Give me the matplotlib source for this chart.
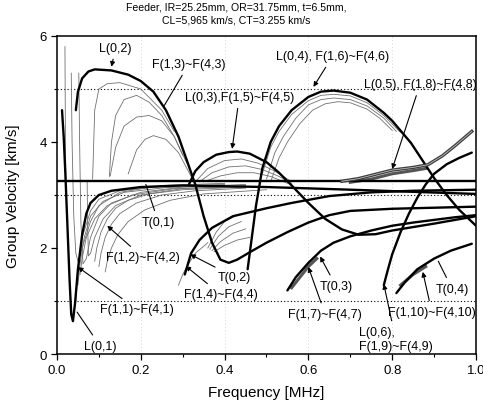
import matplotlib
matplotlib.use("Agg")
import matplotlib.pyplot as plt
from matplotlib import font_manager

plt.rcParams['font.family'] = ['Liberation Sans', 'DejaVu Sans']

# ---------------- data ----------------
title_text = "Feeder, IR=25.25mm, OR=31.75mm, t=6.5mm,\nCL=5,965 km/s, CT=3.255 km/s"
x_ticks = [0.0, 0.2, 0.4, 0.6, 0.8, 1.0]
x_tick_labels = ["0.0", "0.2", "0.4", "0.6", "0.8", "1.0"]
y_ticks = [0, 2, 4, 6]
ref_levels = [1, 3, 5]

# thick main modes
t01_x = [0.0, 1.0]
t01_y = [3.255, 3.255]

l01_x = [0.012, 0.016, 0.02, 0.025, 0.03, 0.034, 0.038, 0.043, 0.05, 0.06, 0.07, 0.08, 0.1, 0.13, 0.2, 0.3, 0.5, 0.7, 1.0]
l01_y = [4.6, 4.1, 3.4, 2.4, 1.4, 0.75, 0.62, 0.95, 1.6, 2.25, 2.65, 2.85, 3.0, 3.08, 3.15, 3.18, 3.15, 3.1, 3.02]

l02_x = [0.045, 0.05, 0.06, 0.075, 0.09, 0.13, 0.17, 0.2, 0.23, 0.26, 0.29, 0.31, 0.33, 0.35, 0.37, 0.39, 0.41, 0.43, 0.46, 0.5, 0.55, 0.6, 0.65, 0.7, 0.8, 0.9, 1.0]
l02_y = [4.6, 4.95, 5.2, 5.33, 5.37, 5.35, 5.27, 5.15, 4.95, 4.6, 4.1, 3.65, 3.2, 2.6, 2.1, 1.78, 1.72, 1.78, 1.92, 2.1, 2.3, 2.48, 2.62, 2.7, 2.74, 2.76, 2.78]

l03_x = [0.315, 0.33, 0.35, 0.38, 0.41, 0.43, 0.46, 0.5, 0.53, 0.56, 0.6, 0.64, 0.68, 0.72, 0.76, 0.8, 0.9, 1.0]
l03_y = [3.2, 3.45, 3.62, 3.76, 3.81, 3.82, 3.78, 3.62, 3.42, 3.18, 2.85, 2.55, 2.35, 2.25, 2.26, 2.33, 2.46, 2.6]

l04_x = [0.455, 0.465, 0.475, 0.49, 0.51, 0.53, 0.56, 0.6, 0.63, 0.66, 0.7, 0.74, 0.78, 0.8, 0.845, 0.87, 0.9, 0.93, 0.96, 1.0]
l04_y = [1.6, 2.2, 2.8, 3.5, 4.0, 4.3, 4.6, 4.85, 4.95, 4.97, 4.93, 4.8, 4.55, 4.4, 3.98, 3.68, 3.32, 3.0, 2.72, 2.42]

l05_x = [0.68, 0.72, 0.76, 0.8, 0.85, 0.885, 0.92, 0.95, 0.99]
l05_y = [3.26, 3.31, 3.39, 3.47, 3.52, 3.57, 3.74, 3.93, 4.2]

l06_x = [0.78, 0.79, 0.8, 0.82, 0.84, 0.86, 0.88, 0.9, 0.93, 0.96, 0.99]
l06_y = [1.3, 1.6, 1.88, 2.3, 2.65, 2.95, 3.2, 3.4, 3.58, 3.7, 3.8]

t02_x = [0.305, 0.32, 0.34, 0.37, 0.42, 0.5, 0.56, 0.65, 0.75, 0.85, 1.0]
t02_y = [1.5, 1.9, 2.15, 2.38, 2.6, 2.75, 2.85, 2.98, 3.05, 3.08, 3.1]

t03_x = [0.55, 0.57, 0.6, 0.63, 0.66, 0.7, 0.75, 0.8, 0.85, 0.9, 0.95, 1.0]
t03_y = [1.2, 1.45, 1.72, 1.95, 2.1, 2.22, 2.33, 2.42, 2.48, 2.53, 2.58, 2.62]

t04_x = [0.81, 0.83, 0.86, 0.9, 0.94, 0.99]
t04_y = [1.15, 1.35, 1.6, 1.8, 1.95, 2.08]

# thin flexural families (x list, y list) pairs
fam1_x = [[0.045, 0.05, 0.06, 0.08, 0.1, 0.15, 0.25, 0.4],
          [0.05, 0.055, 0.065, 0.08, 0.11, 0.16, 0.26, 0.4],
          [0.055, 0.06, 0.07, 0.09, 0.12, 0.18, 0.28, 0.45]]
fam1_y = [[1.0, 1.55, 2.2, 2.7, 2.92, 3.08, 3.16, 3.2],
          [1.3, 1.7, 2.2, 2.6, 2.88, 3.05, 3.14, 3.18],
          [1.5, 1.8, 2.2, 2.55, 2.8, 3.0, 3.12, 3.16]]

fam2_x = [[0.034, 0.036, 0.04, 0.045, 0.05, 0.06, 0.08, 0.1, 0.15, 0.25, 0.4],
          [0.052, 0.054, 0.057, 0.062, 0.07, 0.08, 0.1, 0.13, 0.2, 0.3, 0.45],
          [0.072, 0.073, 0.075, 0.08, 0.09, 0.11, 0.14, 0.2, 0.3, 0.45],
          [0.09, 0.095, 0.105, 0.12, 0.14, 0.17, 0.22, 0.3, 0.45],
          [0.1, 0.105, 0.115, 0.13, 0.15, 0.19, 0.25, 0.33, 0.45],
          [0.115, 0.12, 0.13, 0.145, 0.17, 0.21, 0.27, 0.35, 0.5],
          [0.019, 0.0195, 0.02, 0.021]]
fam2_y = [[5.3, 4.0, 2.6, 1.9, 1.75, 2.0, 2.5, 2.8, 3.05, 3.18, 3.22],
          [5.3, 4.0, 2.5, 1.7, 1.8, 2.2, 2.6, 2.85, 3.05, 3.15, 3.2],
          [3.25, 2.5, 1.85, 1.9, 2.2, 2.55, 2.8, 3.0, 3.12, 3.18],
          [1.75, 2.0, 2.3, 2.55, 2.75, 2.9, 3.02, 3.1, 3.15],
          [1.65, 1.9, 2.2, 2.45, 2.65, 2.85, 3.0, 3.08, 3.13],
          [1.55, 1.75, 2.0, 2.25, 2.5, 2.72, 2.9, 3.02, 3.1],
          [5.8, 5.0, 4.3, 3.3]]

fam3_x = [[0.085, 0.09, 0.1, 0.12, 0.15, 0.2, 0.25, 0.28],
          [0.125, 0.13, 0.14, 0.16, 0.19, 0.22, 0.25, 0.28, 0.3],
          [0.127, 0.14, 0.16, 0.19, 0.22, 0.25, 0.28, 0.31],
          [0.17, 0.19, 0.21, 0.23, 0.26, 0.29, 0.32]]
fam3_y = [[3.3, 4.6, 5.0, 5.1, 5.12, 5.0, 4.6, 4.2],
          [3.35, 4.0, 4.5, 4.8, 4.88, 4.75, 4.5, 4.1, 3.75],
          [3.36, 3.9, 4.3, 4.47, 4.5, 4.4, 4.1, 3.6],
          [3.4, 3.85, 4.05, 4.12, 4.05, 3.8, 3.35]]

fam4_x = [[0.36, 0.38, 0.4, 0.43],
          [0.365, 0.385, 0.41, 0.44],
          [0.37, 0.39, 0.42, 0.45],
          [0.375, 0.4, 0.43, 0.46],
          [0.29, 0.3, 0.31, 0.33, 0.36]]
fam4_y = [[2.0, 2.3, 2.5, 2.62],
          [1.98, 2.22, 2.4, 2.5],
          [1.95, 2.12, 2.28, 2.36],
          [1.93, 2.05, 2.15, 2.2],
          [1.3, 1.5, 1.65, 1.9, 2.1]]

fam5_x = [[0.33, 0.36, 0.4, 0.44, 0.48, 0.52, 0.56],
          [0.34, 0.37, 0.41, 0.45, 0.49, 0.53, 0.56],
          [0.35, 0.39, 0.43, 0.47, 0.51, 0.55]]
fam5_y = [[3.25, 3.5, 3.65, 3.68, 3.6, 3.45, 3.25],
          [3.25, 3.42, 3.53, 3.55, 3.48, 3.35, 3.22],
          [3.25, 3.36, 3.42, 3.42, 3.35, 3.22]]

fam6_x = [[0.49, 0.51, 0.53, 0.56, 0.6, 0.63, 0.66, 0.7, 0.74, 0.78, 0.82],
          [0.5, 0.52, 0.54, 0.57, 0.6, 0.63, 0.66, 0.7, 0.74, 0.78, 0.81],
          [0.51, 0.53, 0.55, 0.58, 0.61, 0.64, 0.67, 0.7, 0.74, 0.77, 0.8]]
fam6_y = [[3.4, 3.9, 4.2, 4.52, 4.78, 4.88, 4.9, 4.87, 4.74, 4.5, 4.18],
          [3.3, 3.8, 4.1, 4.45, 4.7, 4.8, 4.83, 4.8, 4.68, 4.45, 4.2],
          [3.25, 3.7, 4.0, 4.35, 4.6, 4.72, 4.76, 4.74, 4.62, 4.45, 4.22]]

fam7_x = [[0.56, 0.58, 0.6, 0.62], [0.7, 0.75, 0.8, 0.85, 0.88],
          [0.82, 0.85, 0.88]]
fam7_y = [[1.25, 1.45, 1.65, 1.8], [3.24, 3.3, 3.4, 3.46, 3.5],
          [1.3, 1.5, 1.65]]

# labels: text, text pos, arrow tip, arrowstyle, ha
labels = [
    ("L(0,2)", (0.14, 5.78), (0.13, 5.42), "-|>", "center"),
    ("F(1,3)~F(4,3)", (0.227, 5.47), (0.254, 4.66), "-", "left"),
    ("L(0,3),F(1,5)~F(4,5)", (0.435, 4.85), (0.418, 3.87), "-|>", "center"),
    ("L(0,4), F(1,6)~F(4,6)", (0.658, 5.62), (0.612, 5.04), "-|>", "center"),
    ("L(0,5), F(1,8)~F(4,8)", (0.732, 5.09), (0.80, 3.49), "-|>", "left"),
    ("T(0,1)", (0.242, 2.49), (0.212, 3.2), "-", "center"),
    ("F(1,2)~F(4,2)", (0.204, 1.83), (0.12, 2.42), "-|>", "center"),
    ("F(1,1)~F(4,1)", (0.19, 0.85), (0.05, 1.64), "-|>", "center"),
    ("L(0,1)", (0.103, 0.15), (0.048, 0.79), "-", "center"),
    ("T(0,2)", (0.424, 1.45), (0.318, 1.88), "-|>", "center"),
    ("F(1,4)~F(4,4)", (0.39, 1.13), (0.307, 1.66), "-|>", "center"),
    ("T(0,3)", (0.666, 1.28), (0.628, 1.84), "-|>", "center"),
    ("F(1,7)~F(4,7)", (0.64, 0.75), (0.60, 1.64), "-|>", "center"),
    ("L(0,6),\nF(1,9)~F(4,9)", (0.72, 0.28), (0.78, 1.32), "-|>", "left"),
    ("F(1,10)~F(4,10)", (0.79, 0.79), (0.873, 1.55), "-|>", "left"),
    ("T(0,4)", (0.943, 1.23), (0.91, 1.75), "-", "center"),
]

# ---------------- figure ----------------
fig = plt.figure(figsize=(4.83, 4.06), dpi=100)
ax = fig.add_axes([0.118, 0.1256, 0.8675, 0.7833])
ax.set_xlim(0, 1.0)
ax.set_ylim(0, 6)

for xv in [0.2, 0.4, 0.6, 0.8]:
    ax.axvline(xv, color='#c8c8c8', lw=0.6, ls=(0, (1, 3)), zorder=0)
for lv in ref_levels:
    ax.axhline(lv, color='black', lw=0.8, ls=(0, (1, 2)), zorder=1)

thin_kw = dict(color='#707070', lw=0.6, zorder=2)
for fx, fy in [(fam1_x, fam1_y), (fam2_x, fam2_y), (fam3_x, fam3_y), (fam4_x, fam4_y),
               (fam5_x, fam5_y), (fam6_x, fam6_y)]:
    for xs, ys in zip(fx, fy):
        ax.plot(xs, ys, **thin_kw)
for xs, ys in zip(fam7_x, fam7_y):
    ax.plot(xs, ys, color='#555555', lw=2.2, zorder=2)

thick_kw = dict(color='black', lw=1.7, zorder=3, solid_capstyle='round')
for xs, ys in [(t01_x, t01_y), (l01_x, l01_y), (l02_x, l02_y), (l03_x, l03_y),
               (l04_x, l04_y), (l06_x, l06_y), (t02_x, t02_y),
               (t03_x, t03_y), (t04_x, t04_y)]:
    ax.plot(xs, ys, **thick_kw)
ax.plot(l05_x, l05_y, color='#404040', lw=2.4, zorder=3)
ax.plot(l05_x, l05_y, color='#d0d0d0', lw=0.5, zorder=3)

for txt, tpos, tip, style, ha in labels:
    ax.annotate(txt, xy=tip, xytext=tpos, fontsize=9, ha=ha, va='center',
                annotation_clip=False, clip_on=True,
                arrowprops=dict(arrowstyle=style, color='black', lw=0.8,
                                mutation_scale=7, shrinkA=2, shrinkB=0),
                zorder=5)

ax.set_xticks(x_ticks)
ax.set_xticklabels(x_tick_labels)
ax.set_xticks([0.1, 0.3, 0.5, 0.7, 0.9], minor=True)
ax.set_yticks(y_ticks)
ax.set_yticks([1, 3, 5], minor=True)
ax.tick_params(direction='out', length=4, width=0.9, labelsize=9.5, top=False, right=False)
ax.tick_params(which='minor', direction='out', length=2.5, width=0.8)
for s in ax.spines.values():
    s.set_linewidth(1.1)

ax.set_xlabel("Frequency [MHz]", fontsize=11, labelpad=6)
ax.set_ylabel("Group Velocity [km/s]", fontsize=11, labelpad=14)

installed = {f.name for f in font_manager.fontManager.ttflist}
if 'Liberation Sans Narrow' in installed:
    title_family, title_size = ['Liberation Sans Narrow', 'DejaVu Sans'], 8.6
else:
    title_family, title_size = ['Liberation Sans', 'DejaVu Sans'], 7.6
fig.text(0.49, 0.9655, title_text, fontsize=title_size, family=title_family,
         ha='center', va='center', linespacing=1.4)

fig.savefig("out.png", dpi=100)
